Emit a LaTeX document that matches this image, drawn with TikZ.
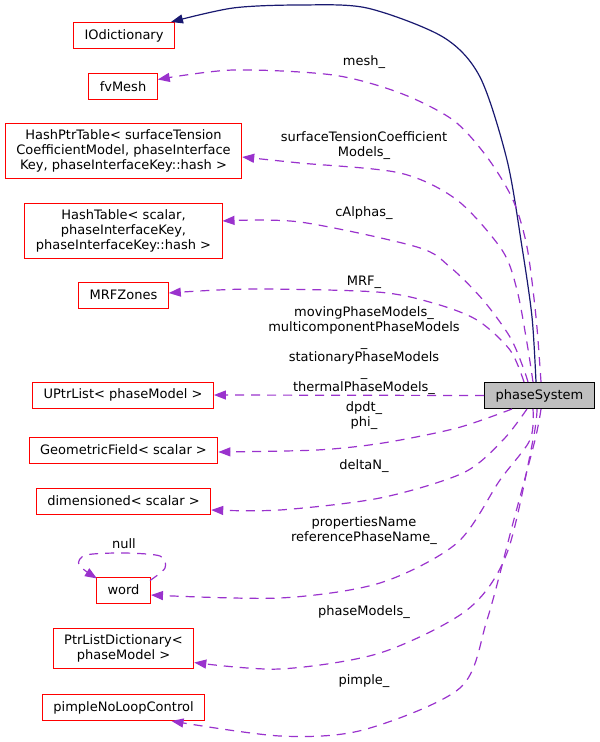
\documentclass[tikz,border=0pt]{standalone}
\usepackage{fontspec}
\setmainfont{DejaVu Sans}
\usetikzlibrary{arrows.meta}
\definecolor{edgecolor}{HTML}{9A32CD}
\definecolor{basecolor}{HTML}{191970}
\definecolor{focuscolor}{HTML}{BFBFBF}
\definecolor{boxcolor}{HTML}{FF0000}
\tikzset{
  classbox/.style={draw=boxcolor, line width=1pt, fill=white, inner xsep=11pt, inner ysep=6pt, minimum height=26pt, align=center},
  focusbox/.style={classbox, draw=black, fill=focuscolor},
  useline/.style={draw=edgecolor, line width=1.2pt, dash pattern=on 9pt off 7pt, -{Triangle[length=12pt,width=9pt]}},
  inheritline/.style={draw=basecolor, line width=1.2pt, -{Triangle[length=12pt,width=9pt]}},
  edgelabel/.style={align=center, inner sep=0pt}
}
\begin{document}
\begin{tikzpicture}[x=1pt, y=-1pt, font=\fontsize{13}{15}\selectfont]
\useasboundingbox (0,0) rectangle (600,742);
% classes
\node[classbox] (iodict) at (124,35.5) {IOdictionary};
\node[classbox] (fvmesh) at (123,86.5) {fvMesh};
\node[classbox] (ptrtable) at (123.5,151) {HashPtrTable< surfaceTension\\CoefficientModel, phaseInterface\\Key, phaseInterfaceKey::hash >};
\node[classbox] (hashtable) at (123.5,231) {HashTable< scalar,\\phaseInterfaceKey,\\phaseInterfaceKey::hash >};
\node[classbox] (mrfzones) at (123.5,295) {MRFZones};
\node[classbox] (uptrlist) at (123,395) {UPtrList< phaseModel >};
\node[classbox] (geofield) at (123.5,450) {GeometricField< scalar >};
\node[classbox] (dimscalar) at (123.5,501) {dimensioned< scalar >};
\node[classbox] (word) at (123.5,590) {word};
\node[classbox] (ptrdict) at (123.5,648.5) {PtrListDictionary<\\phaseModel >};
\node[classbox] (pimple) at (123.5,707.5) {pimpleNoLoopControl};
\node[focusbox] (system) at (539.5,395.5) {phaseSystem};
% base class
\draw[inheritline] plot[smooth] coordinates {([xshift=-3.5pt]system.north) (532,317) (522,247) (507,160) (480,77) (443,37) (367,8) (300,5) (233,8) ([xshift=-4pt]iodict.north east)};
% members
\draw[useline] plot[smooth] coordinates {([xshift=1.5pt]system.north) (536,317) (527,247) (513,200) (487,157) (453,120) (400,93) (333,75) (233,70) ([yshift=7pt]fvmesh.east)};
\draw[useline] plot[smooth] coordinates {([xshift=-6.5pt]system.north) (527,343) (517,290) (502,250) (457,200) (400,173) (300,163) ([yshift=-6pt]ptrtable.east)};
\draw[useline] plot[smooth] coordinates {([xshift=-11.5pt]system.north) (523,367) (510,337) (483,300) (450,267) (417,247) (300,222) ([yshift=10pt]hashtable.east)};
\draw[useline] plot[smooth] coordinates {([xshift=-15.5pt]system.north) (510,350) (477,320) (433,303) (377,292) (250,289) ([yshift=2pt]mrfzones.east)};
\draw[useline] (system.west) -- (uptrlist.east);
\draw[useline] plot[smooth] coordinates {([xshift=-27.5pt]system.south) (457,428) (383,443) (317,450) ([yshift=-2pt]geofield.east)};
\draw[useline] plot[smooth] coordinates {([xshift=-12.5pt]system.south) (503,440) (463,473) (380,498) (280,510) ([yshift=-9pt]dimscalar.east)};
\draw[useline] plot[smooth] coordinates {([xshift=-6.5pt]system.south) (530,440) (500,480) (457,543) (380,583) (280,598) ([yshift=-5pt]word.east)};
\draw[useline] plot[smooth] coordinates {([xshift=-2.5pt]system.south) (533,440) (507,553) (467,610) (380,653) (280,669) ([yshift=-14pt]ptrdict.east)};
\draw[useline] plot[smooth] coordinates {([xshift=1.5pt]system.south) (535,440) (513,523) (487,620) (460,688) (363,730) (280,736) ([xshift=48pt]pimple.south)};
\draw[useline] plot[smooth] coordinates {([xshift=-1pt,yshift=-4pt]word.north east) (165,568) (160,556) (124,553) (86,555) (79,565) ([xshift=1pt,yshift=-2pt]word.north west)};
% labels
\node[edgelabel] (lmesh) at (364,62) {mesh\_};
\node[edgelabel] (lsurf) at (364,145.5) {surfaceTensionCoefficient\\Models\_};
\node[edgelabel] (lalpha) at (364,213) {cAlphas\_};
\node[edgelabel] (lmrf) at (364,282) {MRF\_};
\node[edgelabel] (lmodels) at (364,351) {movingPhaseModels\_\\multicomponentPhaseModels\\\_\\stationaryPhaseModels\\\_\\thermalPhaseModels\_};
\node[edgelabel] (lphi) at (364,416) {dpdt\_\\phi\_};
\node[edgelabel] (ldelta) at (364,466) {deltaN\_};
\node[edgelabel] (lname) at (364,530.5) {propertiesName\\referencePhaseName\_};
\node[edgelabel] (lphase) at (364,612) {phaseModels\_};
\node[edgelabel] (lpimple) at (364,681) {pimple\_};
\node[edgelabel] (lnull) at (124,544) {null};
\end{tikzpicture}
\end{document}
